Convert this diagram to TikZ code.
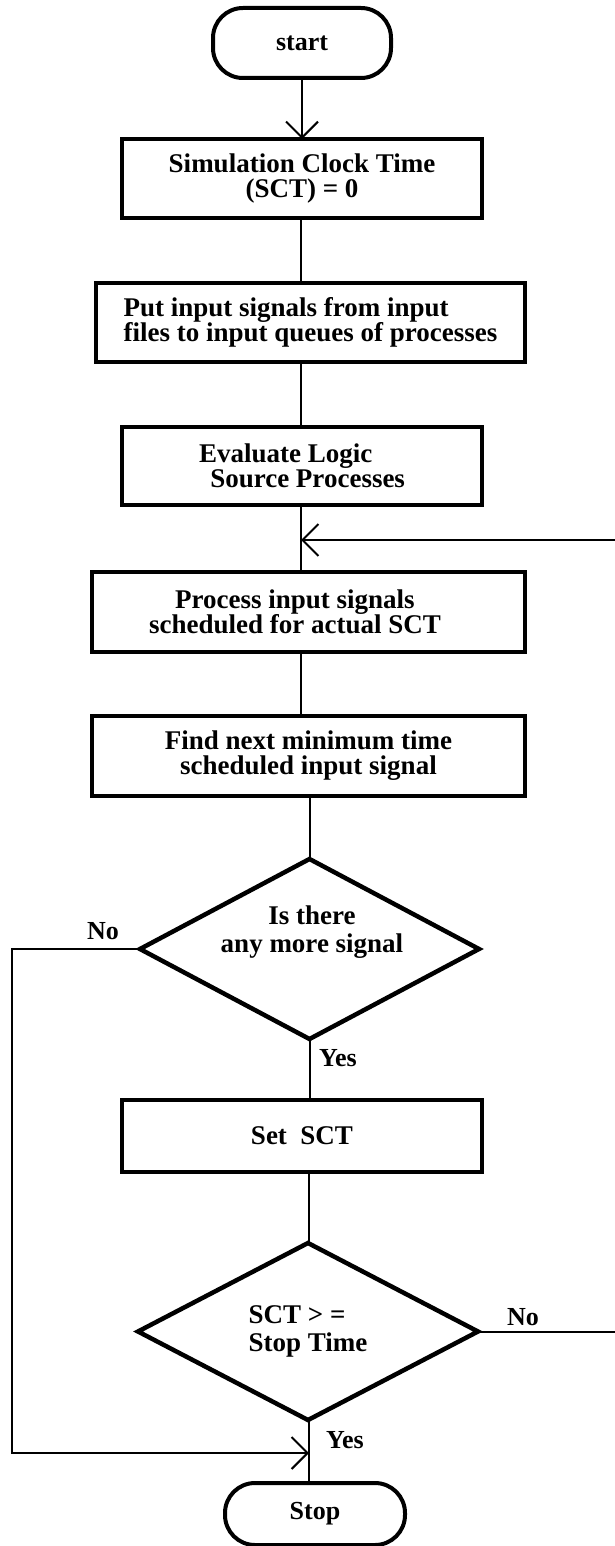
\documentclass[tikz,border=0pt]{standalone}
\usepackage{fontspec}
\setmainfont{Liberation Serif}
\usetikzlibrary{shapes.geometric,arrows.meta,calc}
\begin{document}
\begin{tikzpicture}[x=1pt,y=1pt,
  every node/.style={font=\bfseries\fontsize{26}{25}\selectfont, inner sep=0pt, outer sep=0pt},
  bigtxt/.style={font=\bfseries\fontsize{27}{25}\selectfont},
  stepbox/.style={draw, rectangle, line width=4pt, align=center, bigtxt},
  term/.style={draw, rectangle, rounded corners=30pt, line width=4pt},
  decision/.style={draw, diamond, line width=4.5pt, align=center, bigtxt},
  conn/.style={line width=2pt},
  arr/.style={conn, -{Straight Barb[length=16pt,width=32pt,line width=2pt]}},
  lbl/.style={}]
\useasboundingbox (0,0) rectangle (614,-1546);

\node[term, minimum width=178pt, minimum height=70pt] (start) at (302,-43) {start};
\node[stepbox, minimum width=360pt, minimum height=79pt] (b1) at (302,-178.5) {Simulation Clock Time\\(SCT) = 0};
\node[stepbox, minimum width=429pt, minimum height=79pt, align=left] (b2) at (310.5,-322.5) {Put input signals from input\\files to input queues of processes};
\node[stepbox, minimum width=360pt, minimum height=78pt, align=left] (b3) at (302,-466) {Evaluate Logic\\\ \,Source Processes};
\node[stepbox, minimum width=433pt, minimum height=80pt] (b4) at (308.5,-612) {};
\node[bigtxt, align=center] (b4t) at (295,-612) {Process input signals\\scheduled for actual SCT};
\node[stepbox, minimum width=433pt, minimum height=80pt] (b5) at (308.5,-756) {Find next minimum time\\scheduled input signal};
\node[decision, minimum width=339pt, minimum height=180pt] (d1) at (309.5,-949) {};
\node[bigtxt, align=center] (d1t) at (312,-932) {Is there\\[3pt]any more signal};
\node[stepbox, minimum width=360pt, minimum height=72pt] (b6) at (302,-1136) {Set\ \ SCT};
\node[decision, minimum width=340pt, minimum height=177pt, align=left] (d2) at (308,-1331.5) {SCT > =\\[3pt]Stop Time};
\node[term, minimum width=180pt, minimum height=62pt] (stop) at (315,-1514) {Stop};

\coordinate (loop) at (301,-540);
\coordinate (join) at (309,-1453);

\node[lbl] (no1) at (103,-931) {No};
\node[lbl] (yes1) at (338,-1058) {Yes};
\node[lbl] (no2) at (523,-1317) {No};
\node[lbl] (yes2) at (345,-1440) {Yes};

\draw[arr] (start) -- (b1);
\draw[conn] (b1.south -| loop) -- (b2.north -| loop);
\draw[conn] (b2.south -| loop) -- (b3.north -| loop);
\draw[conn] (b3.south -| loop) -- (b4.north -| loop);
\draw[conn] (b4.south -| loop) -- (b5.north -| loop);
\draw[conn] (b5.south -| d1.north) -- (d1.north);
\draw[conn] (d1.south) -- (d1.south |- b6.north);
\draw[conn] (b6.south -| join) -- (d2.north -| join);
\draw[conn] (d2.south -| join) -- (stop.north -| join);
\draw[arr] (d1.west) -- (12,-949) |- (join);
\draw[arr] (d2.east) -- (625,-1331.5) |- (loop);
\end{tikzpicture}
\end{document}
